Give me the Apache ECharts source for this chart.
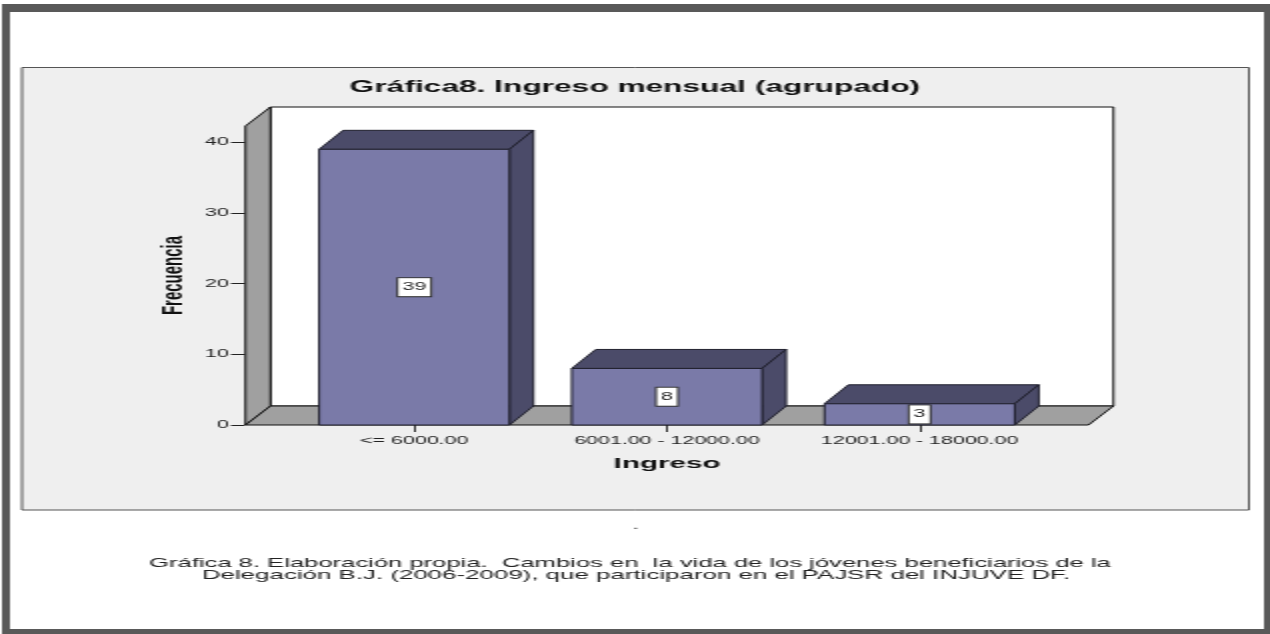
<!DOCTYPE html>
<html>
<head>
<meta charset="utf-8">
<title>Gráfica8</title>
<style>
html,body{margin:0;padding:0;background:#fff;overflow:hidden;width:1270px;height:634px}
/* The reference is a picture stretched to twice its width: draw at half width, then stretch */
#chart{width:635px;height:634px;transform:scaleX(2);transform-origin:0 0}
</style>
<script src="https://cdn.jsdelivr.net/npm/echarts@6/dist/echarts.min.js"></script>
</head>
<body>
<div id="chart"></div>
<script>
const titleText = 'Gráfica8. Ingreso mensual (agrupado)';
const xName = 'Ingreso';
const yName = 'Frecuencia';
const categories = ['<= 6000.00', '6001.00 - 12000.00', '12001.00 - 18000.00'];
const frequencies = [39, 8, 3];
const yTicks = [0, 10, 20, 30, 40];
const yTop = 42.3;
const captionLines = [
  'Gráfica 8. Elaboración propia.  Cambios en  la vida de los jóvenes beneficiarios de la',
  'Delegación B.J. (2006-2009), que participaron en el PAJSR del INJUVE DF.'
];

const FONT = '"Liberation Sans", Arial, sans-serif';
const DX = 12.5, BAR_DX = 12, DY = 19, WALL_PAD = 21.25, BAR_FRAC = 0.753;
const C = {front:'#7a7aa8', dark:'#4b4b69', edge:'#20202e', wall:'#a0a0a0', line:'#111', panel:'#efefef', frame:'#595959', text:'#222'};

function renderWalls(params, api) {
  const cs = params.coordSys;
  const x0 = cs.x - WALL_PAD, x1 = cs.x + cs.width + WALL_PAD, top = cs.y, bot = cs.y + cs.height;
  const st = c => ({fill: c, stroke: C.line, lineWidth: 1});
  return {type: 'group', children: [
    {type: 'rect', shape: {x: x0 + DX, y: top - DY, width: x1 - x0, height: bot - top}, style: st('#fff')},
    {type: 'polygon', shape: {points: [[x0, bot], [x0 + DX, bot - DY], [x0 + DX, top - DY], [x0, top]]}, style: st(C.wall)},
    {type: 'polygon', shape: {points: [[x0, bot], [x1, bot], [x1 + DX, bot - DY], [x0 + DX, bot - DY]]}, style: st(C.wall)}
  ]};
}

function renderBar(params, api) {
  const v = api.value(1);
  const p = api.coord([api.value(0), v]);
  const base = api.coord([api.value(0), 0]);
  const mid = api.coord([api.value(0), v / 2]);
  const w = api.size([1, 0])[0] * BAR_FRAC;
  const l = p[0] - w / 2, r = p[0] + w / 2, t = p[1], b = base[1];
  const st = c => ({fill: c, stroke: C.edge, lineWidth: 1});
  return {type: 'group', children: [
    {type: 'polygon', shape: {points: [[l, t], [l + BAR_DX, t - DY], [r + BAR_DX, t - DY], [r, t]]}, style: st(C.dark)},
    {type: 'polygon', shape: {points: [[r, t], [r + BAR_DX, t - DY], [r + BAR_DX, b - DY], [r, b]]}, style: st(C.dark)},
    {type: 'rect', shape: {x: l, y: t, width: r - l, height: b - t}, style: st(C.front)},
    {type: 'text', x: mid[0], y: mid[1], style: {
      text: String(v), align: 'center', verticalAlign: 'middle',
      font: '10.7px ' + FONT, fill: C.text,
      backgroundColor: '#fff', borderColor: '#333', borderWidth: 1, padding: [4, 2, 3, 2]
    }}
  ]};
}

const frameRects = [[1, 4, 4, 630], [632, 4, 3, 630], [1, 4, 634, 8], [1, 629, 634, 5]];

const chart = echarts.init(document.getElementById('chart'), null, {renderer: 'canvas'});
chart.setOption({
  animation: false,
  backgroundColor: '#fff',
  title: {text: titleText, left: 'center', top: 75,
    textStyle: {fontFamily: FONT, fontSize: 15.85, fontWeight: 'bold', color: '#111'}},
  grid: {left: 144, width: 379, top: 126, height: 299, containLabel: false},
  xAxis: {
    type: 'category', data: categories,
    name: xName, nameLocation: 'middle', nameGap: 31,
    nameTextStyle: {fontFamily: FONT, fontSize: 14.8, fontWeight: 'bold', color: '#111'},
    axisLine: {show: false},
    axisTick: {show: true, alignWithLabel: true, length: 7, lineStyle: {color: '#333', width: 1}},
    axisLabel: {interval: 0, margin: 11, fontFamily: FONT, fontSize: 10.7, color: C.text}
  },
  yAxis: {
    type: 'value', min: 0, max: yTop, interval: 10, offset: 21.5,
    name: yName, nameLocation: 'middle', nameGap: 28, nameMoveOverlap: false,
    nameTextStyle: {fontFamily: FONT, fontSize: 15, fontWeight: 'bold', color: '#111'},
    splitLine: {show: false},
    axisLine: {show: false},
    axisTick: {show: true, length: 7, customValues: yTicks, lineStyle: {color: '#222', width: 1}},
    axisLabel: {margin: 8, customValues: yTicks, fontFamily: FONT, fontSize: 10.7, color: C.text}
  },
  series: [
    {type: 'custom', coordinateSystem: 'cartesian2d', z: 1, silent: true, clip: false,
     data: [[0, 0]], renderItem: renderWalls},
    {type: 'custom', coordinateSystem: 'cartesian2d', z: 2, silent: true, clip: false,
     encode: {x: 0, y: 1},
     data: frequencies.map((v, i) => [i, v]), renderItem: renderBar}
  ],
  graphic: [
    ...frameRects.map(r => ({type: 'rect', silent: true, z: 0,
      shape: {x: r[0], y: r[1], width: r[2], height: r[3]}, style: {fill: C.frame}})),
    {type: 'rect', silent: true, z: -1,
      shape: {x: 11, y: 67.5, width: 613.5, height: 442.5},
      style: {fill: C.panel, stroke: '#555', lineWidth: 1}},
    {type: 'text', silent: true, x: 318, y: 526,
      style: {text: '.', font: '10px ' + FONT, fill: '#222', align: 'center', verticalAlign: 'middle'}},
    {type: 'text', silent: true, x: 315, y: 563,
      style: {text: captionLines[0], font: '12.8px ' + FONT, fill: C.text, align: 'center', verticalAlign: 'middle'}},
    {type: 'text', silent: true, x: 318, y: 575,
      style: {text: captionLines[1], font: '12.95px ' + FONT, fill: C.text, align: 'center', verticalAlign: 'middle'}}
  ]
});
</script>
</body>
</html>
